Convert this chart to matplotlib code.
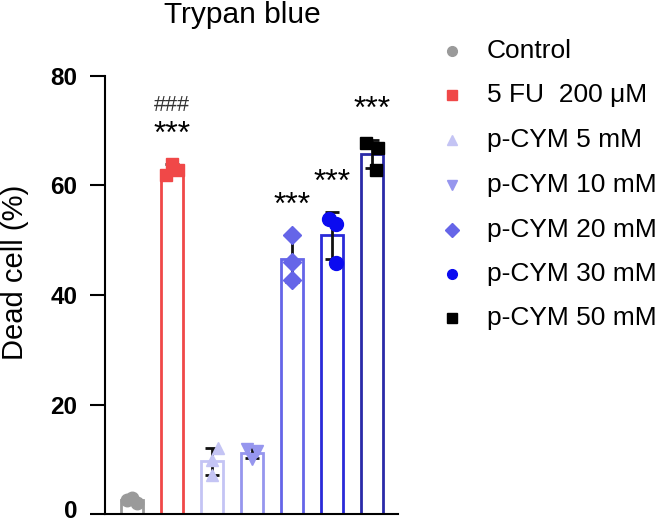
import matplotlib
matplotlib.use('Agg')
import numpy as np
import matplotlib.pyplot as plt
import matplotlib.transforms as mtransforms
from matplotlib.lines import Line2D

plt.rcParams['font.family'] = ['Liberation Sans', 'DejaVu Sans']

# data
groups = ['Control', '5 FU  200 \u03bcM', 'p-CYM 5 mM', 'p-CYM 10 mM',
          'p-CYM 20 mM', 'p-CYM 30 mM', 'p-CYM 50 mM']
points = [
    [2.5, 3.0, 2.0],
    [62.0, 63.9, 62.8],
    [12.0, 9.9, 7.1],
    [11.8, 11.6, 10.0],
    [51.0, 46.0, 42.7],
    [53.8, 53.0, 45.9],
    [67.7, 66.8, 62.8],
]
stars = ['', '***', '', '', '***', '***', '***']
star_y = [0, 67.8, 0, 0, 54.8, 59.1, 72.4]
hash_y = 73.6

point_colors = ['#9a9a9a', '#f04848', '#c4c4f4', '#9696ee', '#6565e8', '#0b0bf0', '#000000']
bar_colors = ['#9a9a9a', '#f04848', '#c4c4f4', '#9696ee', '#6565e8', '#2a2ad8', '#2a2aa8']
markers = ['o', 's', '^', 'v', 'D', 'o', 's']
msizes = [9, 9, 9, 9, 9, 10, 9]
jitter = [[-0.12, 0.0, 0.12], [-0.15, 0.0, 0.15], [0.15, 0.0, 0.0],
          [-0.12, 0.12, 0.0], [0.0, 0.0, 0.0], [-0.07, 0.1, 0.1], [-0.15, 0.15, 0.1]]

fig = plt.figure(figsize=(6.61, 5.24), dpi=100)
ax = fig.add_axes([0.159, 0.019, 0.443, 0.836])

x = np.arange(len(groups))
means = [np.mean(p) for p in points]
sds = [np.std(p, ddof=1) for p in points]

for i in range(len(groups)):
    ax.bar(x[i], means[i], width=0.55, facecolor='none', edgecolor=bar_colors[i],
           linewidth=2, zorder=2)
    ax.errorbar(x[i], means[i], yerr=sds[i], color='#111111', capsize=5,
                elinewidth=2, capthick=2, zorder=3)
    ax.plot(x[i] + np.array(jitter[i]), points[i], linestyle='none',
            marker=markers[i], markersize=msizes[i], color=point_colors[i], zorder=4)
    if stars[i]:
        ax.text(x[i], star_y[i], stars[i], ha='center', va='baseline', fontsize=23)

ax.text(x[1], hash_y, '###', ha='center', va='baseline', fontsize=15.5, color='#333333')

ax.set_xlim(-0.675, 6.65)
ax.set_ylim(0, 80)
ax.set_yticks([0, 20, 40, 60, 80])
for lab in ax.get_yticklabels():
    lab.set_fontweight('bold')
ax.tick_params(axis='y', labelsize=17.5, width=1.5, length=11, pad=9)
ax.set_xticks([])
ax.spines['top'].set_visible(False)
ax.spines['right'].set_visible(False)
ax.spines['left'].set_linewidth(1.5)
ax.spines['bottom'].set_linewidth(1.5)

# the "0" label sits a little higher in the original, keep it inside the figure
zero_lab = ax.yaxis.get_major_ticks()[0].label1
zero_lab.set_transform(zero_lab.get_transform() +
                       mtransforms.ScaledTranslation(0, 5 / 100, fig.dpi_scale_trans))

fig.text(15 / 661, 0.5 - 10 / 524, 'Dead cell (%)', rotation=90, ha='center',
         va='center', fontsize=21)
fig.text(242 / 661, 1 - 15 / 524, 'Trypan blue', ha='center', va='center', fontsize=21.5)

# legend placed by hand
row_y = [51, 95, 140, 185, 230, 274, 318]
for i in range(len(groups)):
    yy = 1 - row_y[i] / 524
    fig.add_artist(Line2D([452 / 661], [yy], transform=fig.transFigure,
                          linestyle='none', marker=markers[i], markersize=7,
                          color=point_colors[i]))
    fig.text(487 / 661, yy, groups[i], ha='left', va='center', fontsize=19)

fig.savefig('out.png', dpi=100)
